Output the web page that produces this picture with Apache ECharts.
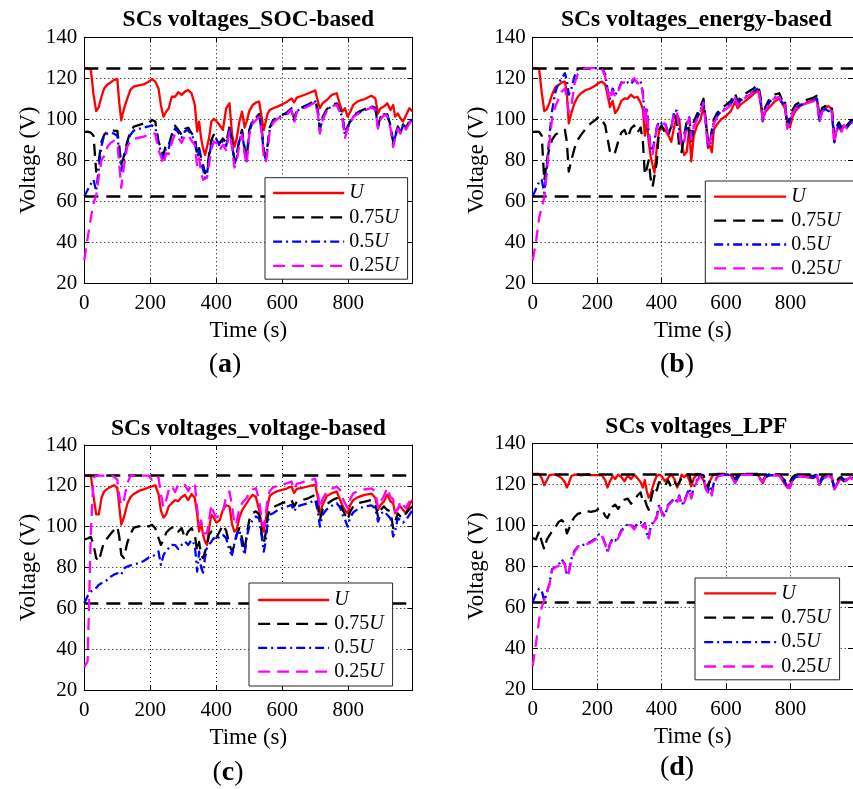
<!DOCTYPE html>
<html>
<head>
<meta charset="utf-8">
<script src="https://cdn.jsdelivr.net/npm/echarts@6/dist/echarts.min.js"></script>
<style>
html, body { margin: 0; padding: 0; background: #fff; }
#chart { width: 853px; height: 789px; }
</style>
</head>
<body>
<div id="chart"></div>
<script>
// Sample instants (s) shared by every trace
const time = [
  0, 10, 20, 28, 36, 44, 52, 60, 70, 80,
  90, 100, 106, 112, 120, 130, 140, 150, 165, 180,
  195, 205, 215, 225, 232, 240, 248, 256, 265, 275,
  285, 295, 305, 315, 325, 335, 342, 348, 354, 360,
  366, 372, 378, 385, 392, 400, 410, 420, 430, 440,
  448, 455, 462, 470, 478, 486, 492, 500, 510, 520,
  530, 538, 544, 550, 556, 562, 572, 585, 600, 615,
  628, 636, 644, 660, 680, 700, 708, 714, 722, 735,
  750, 765, 775, 782, 790, 798, 806, 815, 830, 850,
  870, 882, 890, 898, 908, 918, 928, 936, 942, 950,
  958, 966, 975, 985, 994
];

// Upper / lower supercapacitor voltage limits (V)
const voltageLimits = [125, 62.5];

const seriesNames = ['U', '0.75U', '0.5U', '0.25U'];

// (a) SOC-based
const socU = [
  125, 125, 124, 112, 104, 106, 111, 115, 117, 118,
  119.2, 119.7, 108, 99.5, 105, 110, 114.5, 116, 116.5, 117,
  118.3, 119.6, 118.4, 115, 107, 101.3, 103.7, 105.4, 111, 111,
  113.2, 111.9, 113.5, 114.3, 112.7, 107, 94, 98.9, 90.7, 85.9,
  82.6, 83.4, 90.7, 98.9, 100.2, 99.2, 97.2, 94.8, 105.4, 107.8,
  92.4, 86.7, 90.7, 98.9, 103.7, 96, 99, 104, 107, 108.1,
  108.6, 100.5, 94.8, 98.9, 102.9, 104.5, 105.4, 106.2, 107.3, 108.6,
  110.2, 108.3, 110.6, 111.5, 112.7, 114.1, 108.6, 105.4, 107.8, 109.4,
  111.9, 112.7, 107, 103.7, 105.4, 101.3, 103.7, 107, 108.9, 109.9,
  111.5, 110.2, 102.9, 105.4, 106.2, 107.8, 104.5, 107, 101.3, 102.9,
  100.5, 98.9, 102, 105.4, 104
];
const socU75 = [
  93.75, 94, 93.5, 92, 74.5, 80, 89, 92.4, 94, 94.8,
  94.5, 94.3, 87, 78, 82, 89, 94, 96.4, 97.2, 98,
  98, 99.7, 98.9, 89.1, 85.9, 82.6, 88.3, 87.5, 92.4, 96.9,
  94.8, 92.4, 95.3, 95.9, 93.2, 91.5, 82.6, 85.9, 81, 77.7,
  73.7, 75.3, 82.6, 89.9, 92.4, 91.5, 88.3, 90.7, 88.3, 96.4,
  89.1, 79.3, 82.6, 90.7, 94.8, 85.9, 81, 94.8, 99.5, 100.8,
  102.6, 95, 85, 82, 88, 96, 99.5, 101.3, 102.1, 103.5,
  105.4, 100, 104.5, 105.8, 107.3, 109.2, 104, 95, 101, 105,
  107, 107.8, 104.5, 102, 93, 96.5, 99, 102, 103.5, 105,
  106.6, 105.5, 97, 101, 103, 102.5, 97, 89, 92, 96.5,
  94, 97.5, 96, 99, 100.5
];
const socU50 = [
  62.5, 65.5, 68.5, 70.5, 65, 76, 87, 92, 93, 93.5,
  93, 92, 84, 75, 80, 88, 92.5, 94.5, 95.3, 96,
  96.5, 97, 96, 88, 84.5, 81, 86.5, 86, 91, 95.5,
  93.5, 91, 94.2, 94.8, 92, 90, 81, 84.5, 79, 75.5,
  71.5, 73.5, 81, 88.5, 91.2, 90.5, 87, 89.5, 87, 95.5,
  88, 78, 81.5, 89.5, 93.8, 84.5, 79.5, 93.8, 98.8, 100.2,
  102, 94, 83.5, 80.5, 87, 95.2, 99, 100.8, 101.6, 103,
  105, 99.2, 104, 105.3, 106.8, 108.7, 103.2, 94, 100.3, 104.4,
  106.5, 107.3, 103.8, 101.2, 92, 95.8, 98.4, 101.5, 103, 104.5,
  106.1, 105, 96.2, 100.4, 102.5, 102, 96.3, 88, 91.3, 96,
  93.4, 97, 95.4, 98.5, 100
];
const socU25 = [
  31.25, 42, 52, 59, 63, 72, 80, 82, 86.5, 88.5,
  89.5, 88.5, 78, 66.5, 77, 86.5, 89.5, 90.5, 91, 91.5,
  92.5, 93, 93, 85, 82, 78, 83.5, 83, 88.5, 93,
  91, 88.5, 92, 92.5, 89.5, 87.5, 77, 81, 74, 70.5,
  70, 71.5, 78, 85.5, 89, 88.5, 85, 87.5, 85, 94,
  86, 76.5, 79.5, 88, 92.5, 83, 78, 92.5, 97.8, 99.5,
  101.3, 93, 81.5, 79, 85.5, 94.5, 98.3, 100.2, 101.1, 102.5,
  104.6, 98.5, 103.6, 105, 106.5, 108.4, 102.5, 93, 99.6, 104,
  106.2, 107.1, 103.3, 100.6, 91, 95.3, 98, 101.2, 102.7, 104.2,
  105.8, 104.7, 95.5, 100, 102.1, 101.6, 95.5, 86.5, 90.6, 95.5,
  93, 96.5, 95, 98, 99.5
];

// (b) energy-based
const energyU = [
  125, 125, 124.5, 113, 104, 105, 108, 112, 115.5, 116.7,
  118, 118.4, 113, 98, 103, 108, 111, 112.7, 114.3, 115.1,
  116.5, 117.8, 118.4, 117, 112, 106, 109, 103, 105, 109,
  110.2, 110, 112, 110.5, 111, 108, 105, 92, 99, 89,
  82, 77.7, 74, 86, 94, 96.4, 95, 92.4, 89, 97,
  102, 100, 88, 82.6, 84, 96, 79.5, 92, 97, 99.5,
  106, 99, 86, 87, 84, 95, 97.5, 100, 101.6, 104,
  108.6, 105.4, 107, 109, 111.5, 114.3, 107, 101, 103.5, 106,
  108.5, 110.2, 107.5, 105.5, 100, 96, 101, 104, 106.5, 108,
  109.5, 110, 100, 103.5, 105.5, 106.5, 105, 89, 94, 96.5,
  94, 97, 96, 98, 99
];
const energyU75 = [
  93.75, 94, 93.8, 92, 70, 80, 86, 90, 92.4, 93.5,
  94.5, 94.8, 89, 74.5, 80, 86, 90, 92.4, 95.5, 98,
  99.7, 101.3, 99.7, 97, 91, 84, 82.6, 84, 89, 93.5,
  94.8, 91, 95.5, 97, 93.5, 96, 89, 73, 76, 80,
  71, 67, 66.5, 79, 95, 97, 93.5, 92, 96.5, 102,
  98, 86, 84, 92, 99, 93, 88, 99, 102.5, 106,
  110, 98, 89, 88, 95, 100, 103, 105.5, 107, 109,
  112.7, 108.6, 110.5, 112.5, 114.5, 116.7, 110, 100.5, 106, 110,
  112, 112.7, 109, 110, 97.2, 101, 104.5, 107, 108.5, 109.5,
  110.5, 111.5, 100.5, 105.5, 106.5, 105.5, 106, 92, 96, 98.5,
  96, 98.5, 97, 99, 100
];
const energyU50 = [
  62.5, 66, 69.5, 70.5, 64, 77, 92, 104, 113, 118,
  120, 122.5, 119, 112, 115, 121, 124.5, 125, 125, 125,
  125, 125, 125, 122, 115, 110, 115, 112, 114, 118,
  117.5, 118, 117, 119.5, 118, 118.5, 113, 99, 106, 94,
  87, 84.2, 90, 96, 99, 98, 98.5, 94, 96, 104.5,
  104, 94, 88, 90, 98, 101, 91, 97, 100.5, 104,
  108.5, 97, 87.5, 86.5, 93.5, 98.5, 101.5, 104, 105.5, 107.5,
  111, 107, 109, 111, 113, 115.2, 108.5, 99, 104.5, 108.5,
  110.5, 111.3, 107.7, 108.5, 95.8, 99.5, 103, 105.5, 107, 108,
  109, 110.2, 99.3, 104, 105, 104, 104.5, 88.8, 94.5, 97.2,
  94.8, 97.3, 96, 98, 99
];
const energyU25 = [
  31.25, 40, 52, 57, 62, 74, 89, 100, 106, 110,
  113.5, 115, 110, 103.5, 106.5, 117.5, 122, 124, 125, 125,
  125, 125, 124.5, 121, 114, 109, 114, 111, 113.5, 117.5,
  118, 117.5, 118.5, 120, 117.5, 118, 112, 98, 105, 93,
  86, 83, 89, 95.5, 98.5, 97.5, 98, 93.5, 95.5, 104,
  103.5, 93, 87, 89, 97.5, 100.5, 90, 96.5, 100, 103.5,
  108, 96, 86, 85.5, 92.5, 98, 101, 103.5, 105, 107,
  110.6, 106.5, 108.5, 110.6, 112.6, 114.8, 108, 98.5, 104, 108,
  110.2, 111, 107.3, 108, 95.3, 99, 102.6, 105.2, 106.7, 107.7,
  108.7, 110, 98.8, 103.6, 104.7, 103.7, 104.2, 88.2, 94, 96.8,
  94.3, 97, 95.6, 97.6, 98.6
];

// (c) voltage-based
const voltU = [
  125, 125, 125, 115, 106, 106, 114, 117.2, 118.5, 119.5,
  120.3, 119, 110, 101, 104.5, 111, 114.5, 116, 117.5, 118.3,
  119.2, 119.7, 120.3, 116, 108, 104.5, 106, 110, 111.5, 113,
  112.5, 114.5, 115.5, 113, 116, 114, 106, 97.6, 102, 96,
  92.7, 91.1, 99, 105.8, 104.5, 102, 103, 108.2, 110.5, 109.9,
  101, 97.6, 98.5, 104.5, 108, 110, 110.7, 113.5, 115.6, 114.5,
  108, 101, 97.6, 103, 110.7, 115, 116.4, 117.4, 118, 118.8,
  119.7, 116.5, 118.5, 119, 119.8, 120.5, 114, 105.8, 110.7, 115,
  116.4, 117.2, 113.2, 110.5, 108, 106.6, 110.7, 113, 114.5, 115.6,
  116.2, 114, 108.2, 110.7, 112.3, 115.6, 112.3, 111.5, 106.6, 109,
  109.9, 108.2, 106.6, 110.7, 113
];
const voltU75 = [
  93.75, 94.2, 95, 91, 84.6, 83, 88, 92.5, 94.4, 96.5,
  98.4, 100, 95, 86.2, 84.6, 92, 96.5, 99.5, 100.1, 100.5,
  100.1, 100.9, 99.3, 94.4, 91.1, 93.5, 97, 98.4, 99.5, 100,
  97.6, 99.3, 94.4, 97.6, 99.3, 96, 88, 92.5, 86.2, 84.6,
  84.6, 91, 96, 97.6, 96, 94.4, 97.6, 100.9, 98, 91,
  87.8, 91, 96, 99.3, 94.4, 87.8, 96, 103.3, 106.6, 107.5,
  106, 96, 91.9, 97, 105, 108.2, 109.5, 110.5, 111.5, 112.3,
  113.1, 109.9, 112.3, 113, 114, 115.6, 110, 103.3, 108.2, 111,
  112.8, 114, 112, 108.5, 106, 103.3, 107.5, 109.9, 111.5, 112.3,
  113, 111, 105, 108.2, 109.9, 108.2, 107.5, 99.3, 102.5, 106.5,
  105, 104, 106.6, 108.5, 110
];
const voltU50 = [
  62.5, 66, 68.2, 69, 70, 71.5, 72.3, 73, 74, 75.5,
  76.5, 77.2, 77.5, 76.4, 79.5, 80.5, 81, 81.5, 82.1, 83.2,
  84.8, 85.4, 86.2, 87.8, 81.3, 86, 88.5, 89.5, 91.1, 91,
  89, 91.1, 92.7, 91.1, 93.5, 91, 78, 87.8, 80, 77.5,
  85, 89.5, 91.1, 92.7, 94.4, 93.5, 95.2, 96, 94.4, 88,
  86.2, 92, 96.5, 98.4, 91, 86.2, 95, 100, 103.3, 105,
  104, 95, 87.8, 93, 102.5, 105.8, 106.6, 108, 109.1, 109.9,
  110.7, 107.5, 109.9, 110.7, 111.5, 113.1, 107, 100, 105.8, 108.5,
  110.2, 111.5, 109.5, 106, 103.5, 100, 104.5, 107, 108.8, 109.9,
  110.4, 109, 102.5, 106.2, 107.5, 105.8, 104, 95.2, 98, 104.2,
  103.3, 102, 103.3, 105.8, 108
];
const voltU25 = [
  31.25, 34, 98, 124, 125, 125, 125, 125, 125, 125,
  124.5, 123, 115, 110.5, 113, 121, 125, 125, 125, 125,
  125, 123, 125, 124, 116, 109.5, 113, 118, 120, 117,
  120.5, 120, 120.5, 117.5, 120.5, 121, 109, 101, 103, 96.5,
  95.7, 97, 103, 110.7, 107, 104.5, 105.4, 107, 115, 117.2,
  110, 100.9, 102.5, 109, 111.5, 113, 114, 116.4, 118.3, 118.8,
  113, 103, 100, 106.5, 114, 117.5, 119.2, 120, 120.5, 121.3,
  122.1, 118.3, 121, 121.7, 122.5, 123.4, 116.5, 109.1, 113.5, 117.2,
  118.6, 119.7, 118, 114.3, 111.5, 109.1, 113.5, 116.3, 117.5, 118.3,
  118.8, 117.2, 109.1, 112.3, 115, 119, 114.5, 113.5, 107.5, 108.2,
  112.5, 110.7, 109.1, 112.3, 115.5
];

// (d) LPF
const lpfU = [
  125, 125, 125, 123, 119.5, 122, 124.5, 124.7, 124.7, 124,
  123, 121, 118.4, 120.5, 124, 124.7, 124.7, 124.3, 124.7, 124.5,
  124.5, 124.5, 124.3, 122, 118.4, 121.5, 124, 122.5, 124.7, 123.5,
  121.5, 124.3, 122.5, 124.7, 123, 121, 118.4, 122, 116.7, 113.5,
  115, 118.4, 121.5, 124, 124.7, 124, 121.5, 123, 124.7, 122.5,
  118.4, 120.5, 124.7, 123.5, 124.7, 122, 119, 123, 124.7, 124,
  122, 117.5, 120, 121.5, 123.5, 124.7, 124.7, 124.8, 124.8, 124.5,
  121.5, 123.5, 124.8, 124.8, 124.8, 124.5, 122, 120.5, 123.5, 124.5,
  124.5, 124.3, 122, 120, 118.4, 120, 122, 123.5, 124, 123.5,
  123, 124, 119.8, 122.5, 123.5, 124.5, 123, 117.6, 119.5, 122,
  122.5, 121.5, 122, 123.5, 122.5
];
const lpfU75 = [
  93.75, 93, 97, 92, 88.2, 93, 95, 97, 99, 101.5,
  102.5, 101, 96, 98, 101.5, 104, 105.5, 106, 107, 106.5,
  107, 108, 108, 104.5, 103.5, 106, 109, 110, 108, 110.5,
  112.5, 113, 110.5, 112, 114.5, 116, 111.5, 112.5, 109.5, 107.5,
  112, 116, 119, 117, 121, 120.5, 119, 122, 118.5, 121,
  119.5, 121, 123, 124, 124.8, 124.8, 121, 124.5, 125, 124.8,
  124.5, 120, 118, 122, 124.5, 125, 125, 125, 125, 125,
  122.5, 124.5, 125, 125, 125, 125, 123, 121.6, 124, 125,
  125, 124.8, 123, 122, 120, 121, 123.5, 124.5, 124.8, 124.5,
  124, 124.8, 120.5, 123.5, 124.5, 124.8, 123.5, 118.5, 121, 123,
  123.5, 122, 123, 124, 123
];
const lpfU50 = [
  62.5, 66.5, 69, 68, 63, 67, 71.5, 78.5, 79.5, 80.5,
  83.3, 81, 76, 77, 83.5, 87.5, 89.5, 90, 90.8, 91.9,
  93.5, 95.5, 95, 91, 87.3, 91, 93.5, 92.5, 94, 97.5,
  99, 100.5, 100.2, 98.5, 101, 101.5, 99.5, 101, 96, 93.9,
  99.5, 101, 102.5, 104, 110, 106.5, 104.5, 110, 111.5, 113.2,
  111.5, 114.5, 110, 111.5, 115, 118, 113.5, 118.5, 122, 124,
  123.5, 118, 116.5, 119, 116, 120.5, 123.7, 124.5, 124.7, 124.5,
  120.8, 123, 124.7, 124.7, 124.7, 124.5, 122.5, 121.6, 123.5, 124.3,
  124.5, 124.3, 122.5, 121.5, 119, 118.4, 122, 123.5, 124, 123.8,
  123.2, 124.3, 120, 122.5, 123.5, 124.3, 123.5, 118, 117.6, 121.5,
  122.8, 121.5, 122.5, 123.5, 122.5
];
const lpfU25 = [
  31.25, 42, 54, 60, 63.5, 67.5, 71, 78, 79.5, 80,
  83, 80.5, 75, 76.5, 83, 87, 89.5, 90, 90.5, 91.5,
  93, 95, 94.8, 90.5, 86.5, 90.5, 93, 92, 93.5, 97,
  98.5, 100, 100, 98, 100.5, 101, 99, 100.5, 95.5, 93.5,
  99, 100.5, 102, 103.5, 109.5, 106, 104, 109.5, 111, 112.8,
  111, 114, 109.5, 111, 114.5, 117.5, 113, 118, 121.5, 123.8,
  123.3, 117.5, 116, 118, 114.5, 120, 123.5, 124.4, 124.6, 124.4,
  120.5, 122.8, 124.6, 124.6, 124.6, 124.4, 122.3, 121.3, 123.3, 124.2,
  124.4, 124.2, 122.3, 121.3, 118.7, 118, 121.7, 123.3, 123.9, 123.6,
  123, 124.2, 119.7, 122.3, 123.3, 124.2, 123.3, 117.5, 117.3, 121.2,
  122.6, 121.3, 122.3, 123.3, 122.3
];

// ---- drawing ----
const SERIF = "'Liberation Serif', 'Times New Roman', Times, serif";
const XMAX = 994;

const lineStyles = [
  { color: '#ff0000', type: 'solid', width: 2.3 },
  { color: '#000000', type: [12, 7], width: 2.3 },
  { color: '#0000ff', type: [9, 4, 2, 4], width: 2.3 },
  { color: '#ff00ff', type: [12, 7], width: 2.3 }
];

const panels = [
  {
    title: 'SCs voltages_SOC-based', tag: 'a',
    values: [socU, socU75, socU50, socU25],
    grid: { left: 84.3, top: 37.3, width: 328, height: 246 },
    titleXY: [248.3, 20.4], tagXY: [225, 365],
    legend: { left: 265, top: 177.7, padding: [5.3, 9, 3.3, 7], itemWidth: 71, itemGap: 4.3 }
  },
  {
    title: 'SCs voltages_energy-based', tag: 'b',
    values: [energyU, energyU75, energyU50, energyU25],
    grid: { left: 532.7, top: 37.3, width: 327.3, height: 246 },
    titleXY: [696.4, 20.4], tagXY: [677, 365],
    legend: { left: 705.3, top: 181, padding: [5.7, 20, 4.6, 7.7], itemWidth: 72, itemGap: 3.9 }
  },
  {
    title: 'SCs voltages_voltage-based', tag: 'c',
    values: [voltU, voltU75, voltU50, voltU25],
    grid: { left: 84.3, top: 445, width: 328, height: 245 },
    titleXY: [248.3, 428.8], tagXY: [228, 773],
    legend: { left: 249, top: 583, padding: [7, 9, 4.3, 8], itemWidth: 71, itemGap: 3.9 }
  },
  {
    title: 'SCs voltages_LPF', tag: 'd',
    values: [lpfU, lpfU75, lpfU50, lpfU25],
    grid: { left: 532.7, top: 443.3, width: 327.3, height: 245.7 },
    titleXY: [696.4, 427], tagXY: [677, 768],
    legend: { left: 695, top: 578, padding: [5.3, 9, 3.3, 8], itemWidth: 72, itemGap: 4.4 }
  }
];

function xAxisFor(i, pos) {
  const main = pos === 'bottom';
  return {
    type: 'value', gridIndex: i, position: pos,
    min: 0, max: XMAX, interval: 200,
    name: main ? 'Time (s)' : '', nameLocation: 'middle', nameGap: 36,
    nameTextStyle: { fontFamily: SERIF, fontSize: 23, color: '#000' },
    axisLine: { show: true, onZero: false, lineStyle: { color: '#000', width: 1 } },
    axisTick: { show: true, inside: true, length: 5, lineStyle: { color: '#000', width: 1 } },
    axisLabel: { show: main, margin: 10, fontFamily: SERIF, fontSize: 21, color: '#000', showMaxLabel: false },
    splitLine: { show: main, lineStyle: { color: '#000', width: 1, type: [1, 3] } }
  };
}

function yAxisFor(i, pos) {
  const main = pos === 'left';
  return {
    type: 'value', gridIndex: i, position: pos,
    min: 20, max: 140, interval: 20,
    name: main ? 'Voltage (V)' : '', nameLocation: 'middle', nameGap: 44,
    nameTextStyle: { fontFamily: SERIF, fontSize: 23, color: '#000' },
    axisLine: { show: true, onZero: false, lineStyle: { color: '#000', width: 1 } },
    axisTick: { show: true, inside: true, length: 5, lineStyle: { color: '#000', width: 1 } },
    axisLabel: { show: main, margin: 7, fontFamily: SERIF, fontSize: 21, color: '#000' },
    splitLine: { show: main, lineStyle: { color: '#000', width: 1, type: [1, 3] } }
  };
}

const grids = [], xAxes = [], yAxes = [], series = [], legends = [], texts = [];

panels.forEach((p, i) => {
  grids.push(Object.assign({ containLabel: false }, p.grid));
  xAxes[i] = xAxisFor(i, 'bottom');
  xAxes[i + 4] = xAxisFor(i, 'top');
  yAxes[i] = yAxisFor(i, 'left');
  yAxes[i + 4] = yAxisFor(i, 'right');

  p.values.forEach((vals, k) => {
    const s = {
      type: 'line', name: seriesNames[k],
      xAxisIndex: i, yAxisIndex: i,
      symbol: 'none', silent: true, animation: false,
      data: time.map((t, j) => [t, vals[j]]),
      lineStyle: Object.assign({ cap: 'butt', join: 'round' }, lineStyles[k]),
      itemStyle: { color: lineStyles[k].color },
      z: 2 + k
    };
    if (k === 0) {
      // dashed limit lines at the upper and lower voltage bounds
      s.markLine = {
        silent: true, animation: false,
        symbol: ['none', 'none'],
        label: { show: false },
        lineStyle: { color: '#000', type: [14, 8], width: 2.5 },
        data: voltageLimits.map(v => ({ yAxis: v }))
      };
    }
    series.push(s);
  });

  legends.push(Object.assign({
    orient: 'vertical',
    selectedMode: false,
    backgroundColor: '#fff',
    borderColor: '#262626', borderWidth: 1, borderRadius: 0,
    itemHeight: 20,
    z: 10,
    data: seriesNames.map((n, k) => ({
      name: n,
      itemStyle: { opacity: 0 },
      lineStyle: Object.assign({}, lineStyles[k])
    })),
    formatter: name => name === 'U' ? '{u|U}' : '{n|' + name.slice(0, -1) + '}{u|U}',
    textStyle: {
      rich: {
        n: { fontFamily: SERIF, fontSize: 20, color: '#000', lineHeight: 20 },
        u: { fontFamily: SERIF, fontSize: 20, fontStyle: 'italic', color: '#000', lineHeight: 20 }
      }
    }
  }, p.legend));

  texts.push({
    type: 'text', x: p.titleXY[0], y: p.titleXY[1], silent: true,
    style: {
      text: p.title, fontFamily: SERIF, fontSize: 23.5, fontWeight: 'bold', fill: '#000',
      align: 'center', verticalAlign: 'middle', textAlign: 'center', textVerticalAlign: 'middle'
    }
  });
  texts.push({
    type: 'text', x: p.tagXY[0], y: p.tagXY[1], silent: true,
    style: {
      text: '{p|(}{b|' + p.tag + '}{p|)}',
      rich: {
        p: { fontFamily: SERIF, fontSize: 28, color: '#000' },
        b: { fontFamily: SERIF, fontSize: 28, fontWeight: 'bold', color: '#000' }
      },
      align: 'center', verticalAlign: 'middle', textAlign: 'center', textVerticalAlign: 'middle'
    }
  });
});

const chart = echarts.init(document.getElementById('chart'), null, { renderer: 'canvas' });
chart.setOption({
  animation: false,
  backgroundColor: '#fff',
  grid: grids,
  xAxis: xAxes,
  yAxis: yAxes,
  legend: legends,
  series: series,
  graphic: texts
});
</script>
</body>
</html>
